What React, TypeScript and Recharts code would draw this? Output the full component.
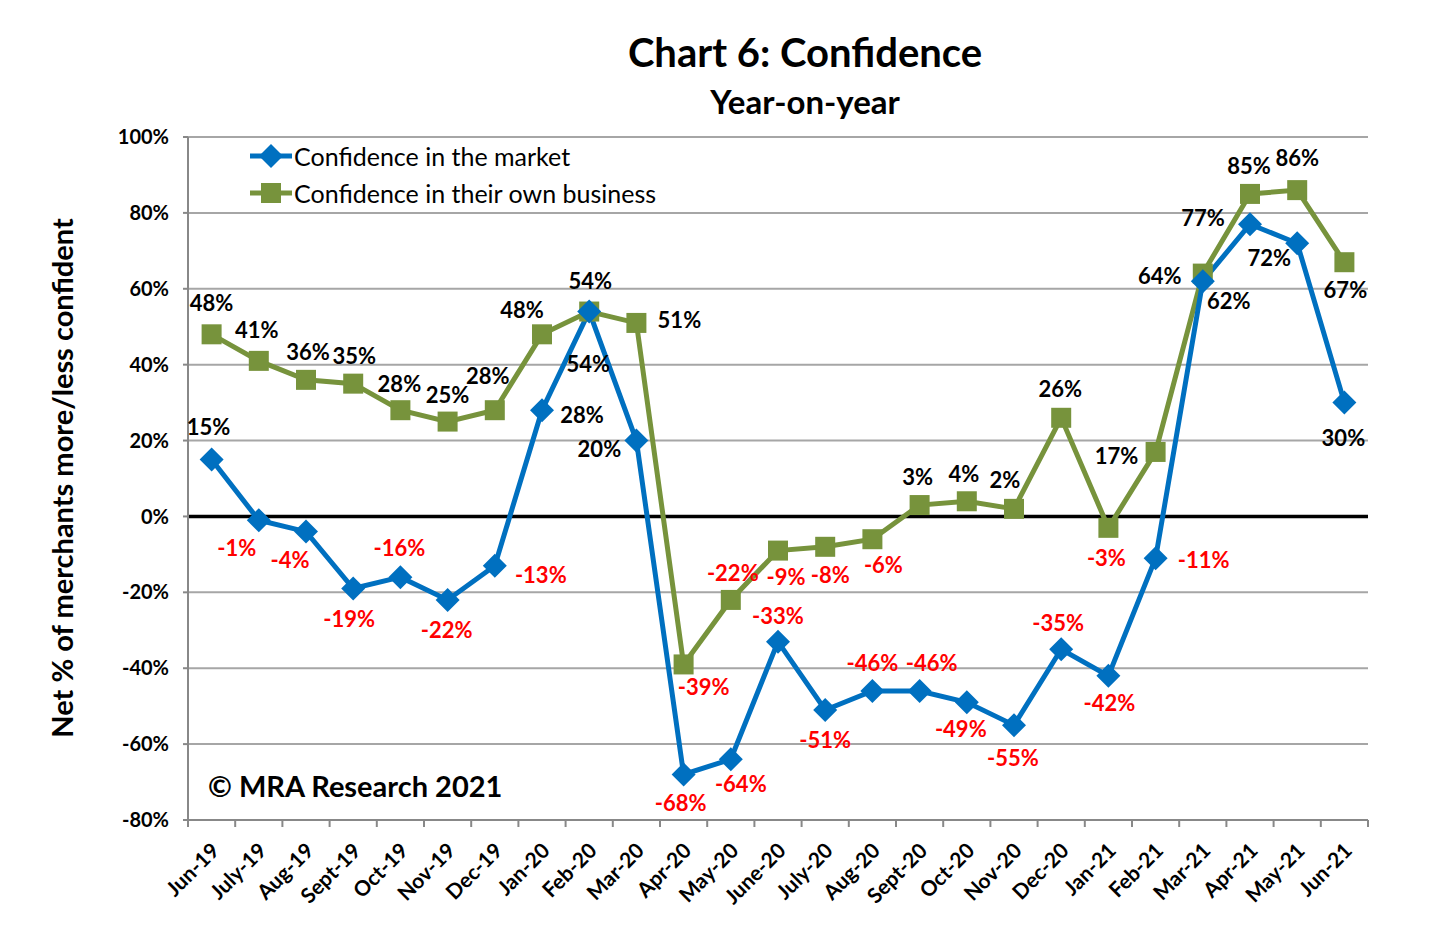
import { LineChart, Line, XAxis, YAxis, CartesianGrid, ReferenceLine, Legend, LabelList } from "recharts";

const categories = [
  "Jun-19", "July-19", "Aug-19", "Sept-19", "Oct-19", "Nov-19", "Dec-19", "Jan-20", "Feb-20", "Mar-20",
  "Apr-20", "May-20", "June-20", "July-20", "Aug-20", "Sept-20", "Oct-20", "Nov-20", "Dec-20", "Jan-21",
  "Feb-21", "Mar-21", "Apr-21", "May-21", "Jun-21",
];

// net % confident in the market
const marketValues = [15, -1, -4, -19, -16, -22, -13, 28, 54, 20, -68, -64, -33, -51, -46, -46, -49, -55, -35, -42, -11, 62, 77, 72, 30];

// net % confident in their own business
const ownBusinessValues = [48, 41, 36, 35, 28, 25, 28, 48, 54, 51, -39, -22, -9, -8, -6, 3, 4, 2, 26, -3, 17, 64, 85, 86, 67];

const yTicks = [-80, -60, -40, -20, 0, 20, 40, 60, 80, 100];

// where each data label sits relative to its point [dx, dy]
const marketLabelOffsets = [
  [-3, -33], [-22, 27], [-16, 28], [-4, 30], [-1, -30], [-1, 30], [46, 9], [40, 4], [-1, 52], [-37, 8],
  [-3, 28], [10, 24], [0, -26], [0, 30], [0, -28], [12, -28], [-6, 26], [-1, 32], [-3, -27], [1, 27],
  [48, 1], [26, 19], [-47, -7], [-28, 14], [-1, 35],
];
const ownLabelOffsets = [
  [0, -32], [-2, -31], [2, -28], [1, -28], [-1, -27], [0, -27], [-7, -35], [-20, -25], [1, -31], [43, -3],
  [20, 22], [2, -27], [8, 26], [5, 28], [11, 25], [-2, -29], [-3, -28], [-9, -29], [-1, -29], [-2, 30],
  [-39, 4], [-43, 2], [-1, -28], [0, -33], [1, 27],
];

const data = categories.map((month, i) => ({
  month,
  market: marketValues[i],
  own: ownBusinessValues[i],
}));

const FONT = "Lato, 'Open Sans', sans-serif";
const BLUE = "#0070C0";
const GREEN = "#77933C";
const PLOT_LEFT = 188;
const PLOT_RIGHT = 1368;
const BAND = (PLOT_RIGHT - PLOT_LEFT) / categories.length;

const Diamond = (props: any) => {
  const { cx, cy } = props;
  if (cx == null || cy == null) return null;
  return <path d={`M${cx},${cy - 12} L${cx + 12},${cy} L${cx},${cy + 12} L${cx - 12},${cy} Z`} fill={BLUE} />;
};

const Square = (props: any) => {
  const { cx, cy } = props;
  if (cx == null || cy == null) return null;
  return <rect x={cx - 10} y={cy - 10} width={20} height={20} fill={GREEN} />;
};

const makeLabel = (offsets: number[][]) => (props: any) => {
  const { x, y, value, index } = props;
  const [dx, dy] = offsets[index] || [0, -28];
  return (
    <text
      x={x + dx}
      y={y + dy}
      textAnchor="middle"
      dominantBaseline="central"
      fontFamily={FONT}
      fontWeight={700}
      fontSize={22}
      fill={value < 0 ? "#FF0000" : "#000"}
    >
      {`${value}%`}
    </text>
  );
};

const XTick = (props: any) => {
  const { x, y, payload, index } = props;
  const tx = x + 9;
  const ty = y + 32;
  return (
    <g>
      <line x1={x - BAND / 2} x2={x - BAND / 2} y1={y} y2={y + 7} stroke="#888" strokeWidth={2} />
      {index === categories.length - 1 && (
        <line x1={x + BAND / 2} x2={x + BAND / 2} y1={y} y2={y + 7} stroke="#888" strokeWidth={2} />
      )}
      <text
        x={tx}
        y={ty}
        textAnchor="end"
        transform={`rotate(-45, ${tx}, ${ty})`}
        fontFamily={FONT}
        fontWeight={700}
        fontSize={21}
        fill="#000"
      >
        {payload.value}
      </text>
    </g>
  );
};

const LegendContent = () => (
  <div style={{ fontFamily: FONT, fontSize: 25, color: "#000" }}>
    {[
      { name: "Confidence in the market", color: BLUE, shape: "diamond" },
      { name: "Confidence in their own business", color: GREEN, shape: "square" },
    ].map((item) => (
      <div key={item.name} style={{ display: "flex", alignItems: "center", height: 37 }}>
        <svg width={46} height={26}>
          <line x1={2} x2={44} y1={13} y2={13} stroke={item.color} strokeWidth={5} />
          {item.shape === "diamond" ? (
            <path d="M23,1 L35,13 L23,25 L11,13 Z" fill={item.color} />
          ) : (
            <rect x={13} y={3} width={20} height={20} fill={item.color} />
          )}
        </svg>
        <span>{item.name}</span>
      </div>
    ))}
  </div>
);

export default function App() {
  return (
    <div style={{ position: "absolute", left: 0, top: 0, width: 1438, height: 940, background: "#fff", fontFamily: FONT }}>
      <div style={{ position: "absolute", left: 0, width: 1610, top: 28, textAlign: "center", fontSize: 40, fontWeight: 700, color: "#000" }}>
        Chart 6: Confidence
      </div>
      <div style={{ position: "absolute", left: 0, width: 1610, top: 81, textAlign: "center", fontSize: 33, fontWeight: 700, color: "#000" }}>
        Year-on-year
      </div>
      <div
        style={{
          position: "absolute",
          left: 62 - 300,
          top: 478 - 20,
          width: 600,
          height: 40,
          lineHeight: "40px",
          textAlign: "center",
          fontSize: 29,
          fontWeight: 700,
          color: "#000",
          transform: "rotate(-90deg)",
          whiteSpace: "nowrap",
        }}
      >
        Net % of merchants more/less confident
      </div>
      <LineChart width={1438} height={940} data={data} margin={{ top: 137, right: 1438 - PLOT_RIGHT, bottom: 10, left: 98 }}>
        <CartesianGrid vertical={false} stroke="#A6A6A6" strokeWidth={2} />
        <XAxis
          dataKey="month"
          interval={0}
          tick={<XTick />}
          tickLine={false}
          tickSize={0}
          tickMargin={0}
          height={110}
          padding={{ left: BAND / 2, right: BAND / 2 }}
          axisLine={{ stroke: "#888", strokeWidth: 2 }}
        />
        <YAxis
          domain={[-80, 100]}
          ticks={yTicks}
          interval={0}
          width={90}
          tickFormatter={(v: number) => `${v}%`}
          tickSize={5}
          tickMargin={14}
          tickLine={{ stroke: "#888", strokeWidth: 2 }}
          axisLine={{ stroke: "#888", strokeWidth: 2 }}
          tick={{ fill: "#000", fontFamily: FONT, fontWeight: 700, fontSize: 20 }}
        />
        <ReferenceLine y={0} stroke="#000" strokeWidth={3.5} />
        <Legend
          layout="vertical"
          align="center"
          verticalAlign="middle"
          content={<LegendContent />}
          wrapperStyle={{ left: 248, top: 137, width: 520 }}
        />
        <Line
          type="linear"
          dataKey="own"
          name="Confidence in their own business"
          stroke={GREEN}
          strokeWidth={5}
          dot={<Square />}
          activeDot={false}
          isAnimationActive={false}
        >
          <LabelList dataKey="own" content={makeLabel(ownLabelOffsets)} />
        </Line>
        <Line
          type="linear"
          dataKey="market"
          name="Confidence in the market"
          stroke={BLUE}
          strokeWidth={5}
          dot={<Diamond />}
          activeDot={false}
          isAnimationActive={false}
        >
          <LabelList dataKey="market" content={makeLabel(marketLabelOffsets)} />
        </Line>
      </LineChart>
      <div style={{ position: "absolute", left: 208, top: 768, fontSize: 29, fontWeight: 700, color: "#000" }}>
        © MRA Research 2021
      </div>
    </div>
  );
}
